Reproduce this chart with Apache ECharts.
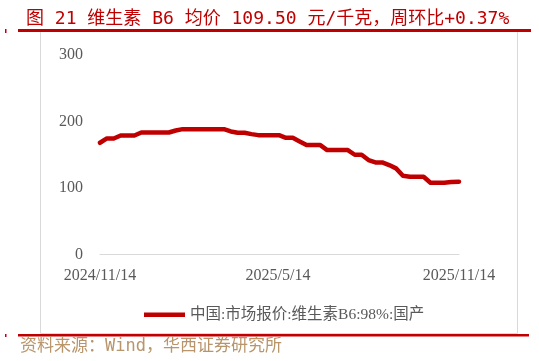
<!DOCTYPE html>
<html>
<head>
<meta charset="utf-8">
<script src="https://cdn.jsdelivr.net/npm/echarts@6/dist/echarts.min.js"></script>
<style>html,body{margin:0;padding:0;background:#fff;}#c{width:539px;height:361px;}</style>
</head>
<body>
<div id="c"></div>
<script>
const titleText = '图 21 维生素 B6 均价 109.50 元/千克，周环比+0.37%';
const sourceText = '资料来源：Wind，华西证券研究所';
const seriesName = '中国:市场报价:维生素B6:98%:国产';
const dates = [
  '2024-11-14','2024-11-21','2024-11-28','2024-12-05','2024-12-12','2024-12-19','2024-12-26',
  '2025-01-02','2025-01-09','2025-01-16','2025-01-23','2025-01-30','2025-02-06','2025-02-13',
  '2025-02-20','2025-02-27','2025-03-06','2025-03-13','2025-03-20','2025-03-27','2025-04-03',
  '2025-04-10','2025-04-17','2025-04-24','2025-05-01','2025-05-08','2025-05-15','2025-05-22',
  '2025-05-29','2025-06-05','2025-06-12','2025-06-19','2025-06-26','2025-07-03','2025-07-10',
  '2025-07-17','2025-07-24','2025-07-31','2025-08-07','2025-08-14','2025-08-21','2025-08-28',
  '2025-09-04','2025-09-11','2025-09-18','2025-09-25','2025-10-02','2025-10-09','2025-10-16',
  '2025-10-23','2025-10-30','2025-11-06','2025-11-14'
];
const prices = [
  168, 174.5, 174.5, 179, 179, 179, 183.5,
  183.5, 183.5, 183.5, 183.5, 186.5, 188.5, 188.5,
  188.5, 188.5, 188.5, 188.5, 188.5, 185, 183,
  183, 181, 179.5, 179.5, 179.5, 179.5, 175.5,
  175.5, 170, 164.5, 164.5, 164.5, 157, 157,
  157, 157, 150, 150, 142, 138.5, 138.5,
  134.5, 129.5, 118.5, 117, 117, 117, 108,
  108, 108, 109.1, 109.5
];
const xTickDates = ['2024-11-14', '2025-05-14', '2025-11-14'];
const yTicks = [0, 100, 200, 300];

function ts(s) { const p = s.split('-').map(Number); return new Date(p[0], p[1] - 1, p[2]).getTime(); }
function fmt(v) { const d = new Date(v); return d.getFullYear() + '/' + (d.getMonth() + 1) + '/' + d.getDate(); }

const chart = echarts.init(document.getElementById('c'), null, { renderer: 'canvas' });
const red = '#c00000';
const labelColor = '#595959';
const serif = "'Liberation Serif', 'Noto Sans CJK SC', serif";

chart.setOption({
  animation: false,
  backgroundColor: '#fff',
  title: {
    text: titleText,
    left: 21, top: 5,
    textStyle: { color: red, fontSize: 18, fontWeight: 'normal', fontFamily: "'DejaVu Sans Mono', 'Noto Sans CJK SC', monospace" }
  },
  graphic: [
    { type: 'rect', shape: { x: 40.5, y: 31.5, width: 477, height: 302 }, style: { fill: 'none', stroke: '#d9d9d9', lineWidth: 1 }, silent: true, z: 0 },
    { type: 'rect', shape: { x: 18, y: 29, width: 513, height: 3 }, style: { fill: red }, silent: true, z: 10 },
    { type: 'rect', shape: { x: 18, y: 334, width: 511, height: 2.5 }, style: { fill: red }, silent: true, z: 10 },
    { type: 'rect', shape: { x: 5, y: 29, width: 1.5, height: 4 }, style: { fill: red }, silent: true, z: 10 },
    { type: 'rect', shape: { x: 5, y: 334, width: 1.5, height: 3 }, style: { fill: red }, silent: true, z: 10 },
    { type: 'text', left: 20, top: 338, style: { text: sourceText, fill: '#b8956a', fontSize: 17, fontFamily: "'DejaVu Sans Mono', 'Noto Sans CJK SC', monospace" }, silent: true, z: 10 }
  ],
  legend: {
    left: 139, top: 302,
    icon: 'rect',
    itemWidth: 41, itemHeight: 4.5, itemGap: 6,
    textStyle: { color: labelColor, fontSize: 15.5, fontFamily: serif },
    data: [seriesName]
  },
  grid: { left: 100, right: 80, top: 55, bottom: 106.5, containLabel: false },
  xAxis: {
    type: 'value',
    min: ts(xTickDates[0]),
    max: ts(xTickDates[2]),
    axisLine: { show: true, lineStyle: { color: '#d9d9d9', width: 1 } },
    axisTick: { show: false },
    splitLine: { show: false },
    axisLabel: {
      customValues: xTickDates.map(ts),
      showMinLabel: true, showMaxLabel: true,
      formatter: fmt,
      color: labelColor, fontSize: 16, fontFamily: serif, margin: 13
    }
  },
  yAxis: {
    type: 'value',
    min: yTicks[0], max: yTicks[yTicks.length - 1], interval: 100,
    axisLine: { show: false },
    axisTick: { show: false },
    splitLine: { show: false },
    axisLabel: { color: labelColor, fontSize: 16, fontFamily: serif, margin: 17 }
  },
  series: [{
    name: seriesName,
    type: 'line',
    data: dates.map((d, i) => [ts(d), prices[i]]),
    showSymbol: false,
    symbol: 'none',
    lineStyle: { color: red, width: 4.5, cap: 'round', join: 'round' },
    itemStyle: { color: red }
  }]
});
</script>
</body>
</html>
